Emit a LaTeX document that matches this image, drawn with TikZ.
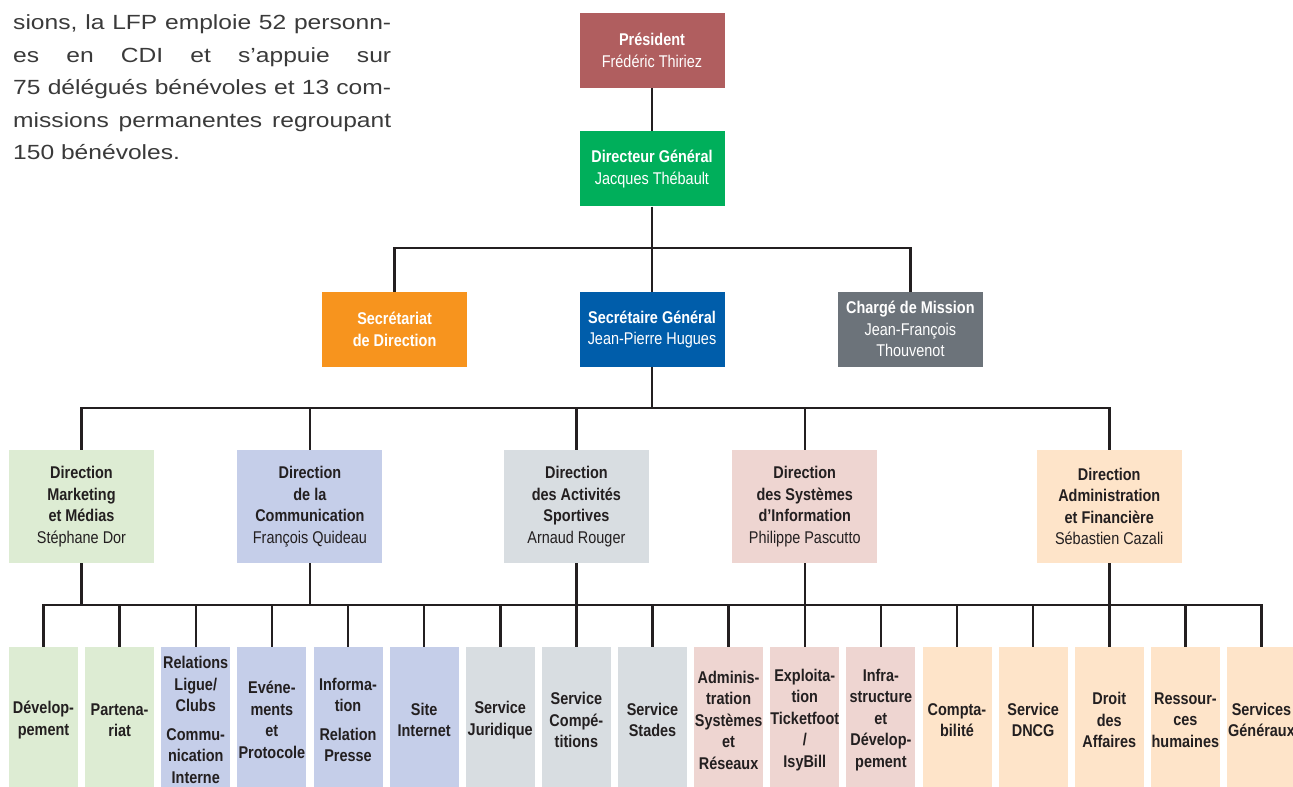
\documentclass[tikz,border=0pt]{standalone}
\usepackage{fontspec}
\setmainfont{Liberation Sans}
\newfontfamily\introfont[FakeStretch=1.2]{Liberation Sans}
\newfontfamily\chartfont[FakeStretch=0.85]{Liberation Sans}
\usetikzlibrary{positioning}

\definecolor{ink}{HTML}{231F20}
\definecolor{introgray}{HTML}{3A3A3A}
\definecolor{presred}{HTML}{B05E5F}
\definecolor{dggreen}{HTML}{00AF5B}
\definecolor{secorange}{HTML}{F7941E}
\definecolor{sgblue}{HTML}{005DAA}
\definecolor{chgray}{HTML}{6C737A}
\definecolor{mktgreen}{HTML}{DDECD3}
\definecolor{comblue}{HTML}{C5CEE9}
\definecolor{actgray}{HTML}{D8DDE1}
\definecolor{sipink}{HTML}{EED5D1}
\definecolor{admpeach}{HTML}{FEE4C9}

\begin{document}
\begin{tikzpicture}[x=1pt,y=-1pt,
                    every node/.style={inner sep=0pt,align=center},
                    topbox/.style={font=\chartfont\fontsize{17pt}{21.5pt}\selectfont,minimum width=145pt,
                                   minimum height=75pt,text=white},
                    dirbox/.style={font=\chartfont\fontsize{17pt}{21.5pt}\selectfont,minimum width=145pt,
                                   minimum height=113pt,text=ink},
                    svcbox/.style={font=\chartfont\fontsize{17pt}{21.5pt}\selectfont\bfseries,minimum width=69pt,
                                   minimum height=146pt,text=ink},
                    link/.style={draw=ink,line width=2.5pt}]
  \useasboundingbox (0,0) rectangle (1293,787);

  % intro text
  \node[anchor=base west,text width=378pt,align=justify,text=introgray,
        font=\introfont\fontsize{20.5pt}{32.5pt}\selectfont] (intro) at (13,29.5)
       {\tolerance=10000 sions, la LFP emploie 52 personn-\linebreak
        es en CDI et s’appuie sur\linebreak
        75 délégués bénévoles et 13 com-\linebreak
        missions permanentes regroupant\linebreak
        150 bénévoles.};

  % top of the chart
  \node[topbox,fill=presred]               (pres)   at (652,50.5) {\textbf{Président}\\Frédéric Thiriez};
  \node[topbox,fill=dggreen]               (dg)     [below=43pt of pres] {\textbf{Directeur Général}\\Jacques Thébault};
  \node[topbox,fill=sgblue]                (sg)     [below=85pt of dg]   {\textbf{Secrétaire Général}\\Jean-Pierre Hugues};
  \node[topbox,fill=secorange]             (secr)   [left=112pt of sg]   {\textbf{Secrétariat}\\\textbf{de Direction}};
  \node[topbox,fill=chgray]                (charge) [right=113pt of sg]  {\textbf{Chargé de Mission}\\Jean-François\\Thouvenot};

  % directions
  \node[dirbox,fill=mktgreen] (dmkt) at (81.5,506.5)
       {\textbf{Direction}\\\textbf{Marketing}\\\textbf{et Médias}\\Stéphane Dor};
  \node[dirbox,fill=comblue]  (dcom) at (309.9,506.5)
       {\textbf{Direction}\\\textbf{de la}\\\textbf{Communication}\\François Quideau};
  \node[dirbox,fill=actgray]  (dact) at (576.4,506.5)
       {\textbf{Direction}\\\textbf{des Activités}\\\textbf{Sportives}\\Arnaud Rouger};
  \node[dirbox,fill=sipink]   (dsi)  at (804.75,506.5)
       {\textbf{Direction}\\\textbf{des Systèmes}\\\textbf{d’Information}\\Philippe Pascutto};
  \node[dirbox,fill=admpeach] (dadm) at (1109.25,506.5)
       {\textbf{Direction}\\\textbf{Administration}\\\textbf{et Financière}\\Sébastien Cazali};

  % services
  \foreach \i/\txt/\col in {1/{Dévelop-\\pement}/mktgreen,
                            2/{Partena-\\riat}/mktgreen,
                            3/{Relations\\Ligue/\\Clubs\\[7pt]Commu-\\nication\\Interne}/comblue,
                            4/{Evéne-\\ments\\et\\Protocole}/comblue,
                            5/{Informa-\\tion\\[7pt]Relation\\Presse}/comblue,
                            6/{Site\\Internet}/comblue,
                            7/{Service\\Juridique}/actgray,
                            8/{Service\\Compé-\\titions}/actgray,
                            9/{Service\\Stades}/actgray,
                            10/{Adminis-\\tration\\Systèmes\\et\\Réseaux}/sipink,
                            11/{Exploita-\\tion\\Ticketfoot\\/\\IsyBill}/sipink,
                            12/{Infra-\\structure\\et\\Dévelop-\\pement}/sipink,
                            13/{Compta-\\bilité}/admpeach,
                            14/{Service\\DNCG}/admpeach,
                            15/{Droit\\des\\Affaires}/admpeach,
                            16/{Ressour-\\ces\\humaines}/admpeach,
                            17/{Services\\Généraux}/admpeach}
    \node[svcbox,fill=\col] (s\i) at ({43.5+76.125*(\i-1)},720) {\txt};

  % connectors
  \coordinate (bus1) at (0,248);
  \coordinate (bus2) at (0,408);
  \coordinate (bus3) at (0,605);

  \draw[link] (pres) -- (dg);
  \draw[link] (dg) -- (sg);
  \draw[link] (secr.north) |- (charge.north |- bus1) -- (charge.north);

  \draw[link] (sg.south) -- (sg.south |- bus2);
  \draw[link] (dmkt.north) |- (dadm.north |- bus2) -- (dadm.north);
  \foreach \d in {dcom,dact,dsi}
    \draw[link] (\d.north) -- (\d.north |- bus2);

  \draw[link] (s1.north) |- (s17.north |- bus3) -- (s17.north);
  \foreach \i in {2,...,16}
    \draw[link] (s\i.north) -- (s\i.north |- bus3);
  \foreach \d in {dmkt,dcom,dact,dsi,dadm}
    \draw[link] (\d.south) -- (\d.south |- bus3);
\end{tikzpicture}
\end{document}
